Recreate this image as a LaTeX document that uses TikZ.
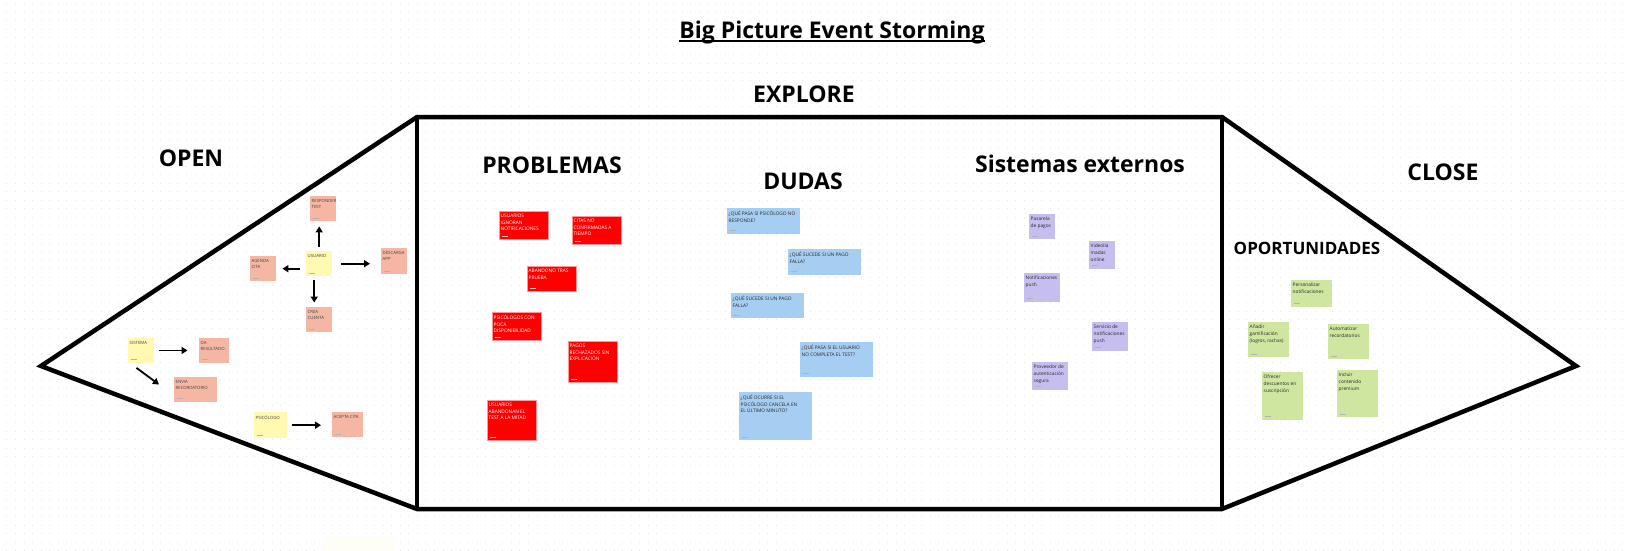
\documentclass[tikz,border=0pt]{standalone}
\usepackage{fontspec}
\setmainfont{Open Sans}
\usetikzlibrary{arrows.meta, calc}
\definecolor{noteorange}{HTML}{F5B7A3}
\definecolor{noteyellow}{HTML}{FFF9B1}
\definecolor{notered}{HTML}{FF0000}
\definecolor{noteblue}{HTML}{A6CDF2}
\definecolor{notepurple}{HTML}{C7BEF0}
\definecolor{notegreen}{HTML}{CEE6A0}
\definecolor{boardgray}{HTML}{E4E4E4}

\begin{document}
\begin{tikzpicture}[x=1pt, y=-1pt,
  frame/.style={line width=4.5pt, line join=miter},
  heading/.style={anchor=base, inner sep=0pt, font=\bfseries\fontsize{23}{23}\selectfont},
  note/.style={anchor=north west, inner sep=0pt,
    path picture={\draw[#1, line width=0.5pt] ([shift={(2.5pt,3pt)}]path picture bounding box.south west) -- ++(6pt,0pt);}},
  note/.default={black!30},
  notesize/.style 2 args={minimum width=#1pt, minimum height=#2pt},
  notetext/.style={anchor=north west, align=left, inner xsep=1.5pt, inner ysep=3pt, text=black!85,
    font=\fontsize{4.8}{6.6}\selectfont},
  smalltext/.style={notetext, text=black!75, font=\fontsize{4.3}{6.3}\selectfont},
  redtext/.style={notetext, text=white},
  orangenote/.style={note, fill=noteorange},
  yellownote/.style={note, fill=noteyellow},
  rednote/.style={note=white!75!red, fill=notered, draw=red!40!white, line width=0.6pt},
  bluenote/.style={note, fill=noteblue},
  purplenote/.style={note, fill=notepurple},
  greennote/.style={note, fill=notegreen},
  flow/.style={-{Triangle[length=6pt, width=7pt]}, line width=1.8pt}
]
\useasboundingbox (0,0) rectangle (1629,551);
\fill[white] (0,0) rectangle (1629,551);

% board dots
\foreach \y in {3.55, 12.1, ..., 551}
  \draw[boardgray, line width=0.9pt, dash pattern=on 0.9pt off 7.65pt, dash phase=2.1pt] (0,\y) -- (1629,\y);
\fill[yellow!4] (323,537) rectangle (395,551);

% title
\node[heading] (title) at (832,39) {Big Picture Event Storming};
\draw[line width=1.5pt] ([yshift=-2pt]title.base west) -- ([yshift=-2pt]title.base east);

% frame
\coordinate (openTip) at (41,366);
\coordinate (exploreNW) at (417,117);
\coordinate (exploreNE) at (1222,117);
\coordinate (closeTip) at (1576,366);
\coordinate (exploreSE) at (1222,509);
\coordinate (exploreSW) at (417,509);
\draw[frame] (openTip) -- (exploreNW) -- (exploreNE) -- (closeTip) -- (exploreSE) -- (exploreSW) -- cycle;
\draw[frame] (exploreNW) -- (exploreSW) (exploreNE) -- (exploreSE);

% headings
\node[heading] (explore) at (804,102) {EXPLORE};
\node[heading] (open) at (191,166) {OPEN};
\node[heading] (problemas) at (552,173.5) {PROBLEMAS};
\node[heading] (dudas) at (803,189) {DUDAS};
\node[heading] (externos) at (1080,172.5) {Sistemas externos};
\node[heading] (close) at (1443,180) {CLOSE};
\node[heading, font=\bfseries\fontsize{17}{17}\selectfont] (oportunidades) at (1307,254.5) {OPORTUNIDADES};

% open: actores y acciones
\node[yellownote, notesize={26}{25}, label={[smalltext]north west:{USUARIO}}] (usuario) at (306,251) {};
\node[orangenote, notesize={26}{25}, label={[smalltext]north west:{RESPONDER\\TEST}}] (responder) at (310,196) {};
\node[orangenote, notesize={26}{25}, label={[smalltext]north west:{AGENDA\\CITA}}] (agenda) at (250,256) {};
\node[orangenote, notesize={26}{26}, label={[smalltext]north west:{DESCARGA\\APP}}] (descarga) at (381,248) {};
\node[orangenote, notesize={26}{25}, label={[smalltext]north west:{CREA\\CUENTA}}] (crea) at (306,307) {};
\node[yellownote, notesize={25.5}{24.5}, label={[smalltext]north west:{SISTEMA}}] (sistema) at (128,338) {};
\node[orangenote, notesize={30}{24.5}, label={[smalltext]north west:{DA\\RESULTADO}}] (resultado) at (199,338) {};
\node[orangenote, notesize={42.5}{24.5}, label={[smalltext]north west:{ENVIA\\RECORDATORIO}}] (envia) at (174,377) {};
\node[yellownote, notesize={33}{26}, label={[smalltext]north west:{PSICÓLOGO}}] (psicologo) at (254,412) {};
\node[orangenote, notesize={31}{25}, label={[smalltext]north west:{ACEPTA CITA}}] (acepta) at (332,412) {};

\draw[flow, shorten <=4pt, shorten >=5pt] (usuario.north) -- (usuario.north |- responder.south);
\draw[flow, shorten <=6pt, shorten >=6pt] (usuario.west |- agenda.east) -- (agenda.east);
\draw[flow, shorten <=9pt, shorten >=11pt] (usuario.east) -- (usuario.east -| descarga.west);
\draw[flow, shorten <=3.5pt, shorten >=4.5pt] ([xshift=-5pt]usuario.south) -- ([xshift=-5pt]usuario.south |- crea.north);
\draw[flow, shorten <=5pt, shorten >=11.5pt] (sistema.east) -- (sistema.east -| resultado.west);
\draw[flow] ([shift={(8.5pt,-5pt)}]sistema.south west) -- ([shift={(-15pt,-7.5pt)}]envia.north west);
\draw[flow, shorten <=5pt, shorten >=11pt] (psicologo.east) -- (psicologo.east -| acepta.west);

% problemas
\node[rednote, notesize={49}{28}, label={[redtext]north west:{USUARIOS\\IGNORAN\\NOTIFICACIONES}}] (ignoran) at (499,211) {};
\node[rednote, notesize={49}{28}, label={[redtext]north west:{CITAS NO\\CONFIRMADAS A\\TIEMPO}}] (citas) at (572,216) {};
\node[rednote, notesize={49}{25}, label={[redtext]north west:{ABANDONO TRAS\\PRUEBA}}] (abandono) at (527,266) {};
\node[rednote, notesize={49}{28}, label={[redtext]north west:{PSICÓLOGOS CON\\POCA\\DISPONIBILIDAD}}] (poca) at (492,312) {};
\node[rednote, notesize={49}{41}, label={[redtext]north west:{PAGOS\\RECHAZADOS SIN\\EXPLICACIÓN}}] (pagos) at (568,341) {};
\node[rednote, notesize={49}{40}, label={[redtext]north west:{USUARIOS\\ABANDONAN EL\\TEST A LA MITAD}}] (mitad) at (487,400) {};

% dudas
\node[bluenote, notesize={73}{25.5}, label={[notetext]north west:{¿QUÉ PASA SI PSICÓLOGO NO\\RESPONDE?}}] (responde) at (727,208) {};
\node[bluenote, notesize={73}{25.5}, label={[notetext]north west:{¿QUÉ SUCEDE SI UN PAGO\\FALLA?}}] (falla) at (788,249) {};
\node[bluenote, notesize={73}{25}, label={[notetext]north west:{¿QUÉ SUCEDE SI UN PAGO\\FALLA?}}] (fallaBis) at (731,293) {};
\node[bluenote, notesize={73}{34.5}, label={[notetext]north west:{¿QUÉ PASA SI EL USUARIO\\NO COMPLETA EL TEST?}}] (completa) at (800,342) {};
\node[bluenote, notesize={73}{48}, label={[notetext]north west:{¿QUÉ OCURRE SI EL\\PSICÓLOGO CANCELA EN\\EL ÚLTIMO MINUTO?}}] (cancela) at (739,392) {};

% sistemas externos
\node[purplenote, notesize={26}{25}, label={[notetext]north west:{Pasarela\\de pagos}}] (pasarela) at (1029,214) {};
\node[purplenote, notesize={26}{27.5}, label={[notetext]north west:{Videolla\\madas\\online}}] (video) at (1089,241) {};
\node[purplenote, notesize={36}{28.5}, label={[notetext]north west:{Notificaciones\\push}}] (push) at (1024,273) {};
\node[purplenote, notesize={35.5}{28.5}, label={[notetext]north west:{Servicio de\\notificaciones\\push}}] (servicio) at (1092,322) {};
\node[purplenote, notesize={35.5}{27.5}, label={[notetext]north west:{Proveedor de\\autenticación\\segura}}] (auth) at (1032,362) {};

% oportunidades
\node[greennote, notesize={40.5}{26.5}, label={[notetext]north west:{Personalizar\\notificaciones}}] (personalizar) at (1291,280) {};
\node[greennote, notesize={41}{35}, label={[notetext]north west:{Añadir\\gamificación\\(logros, rachas)}}] (gamificacion) at (1248,322) {};
\node[greennote, notesize={41}{35}, label={[notetext]north west:{Automatizar\\recordatorios}}] (automatizar) at (1328,324) {};
\node[greennote, notesize={40.5}{47.5}, label={[notetext]north west:{Ofrecer\\descuentos en\\suscripción}}] (descuentos) at (1262,372) {};
\node[greennote, notesize={40.5}{47}, label={[notetext]north west:{Incluir\\contenido\\premium}}] (premium) at (1337,370) {};
\end{tikzpicture}
\end{document}
